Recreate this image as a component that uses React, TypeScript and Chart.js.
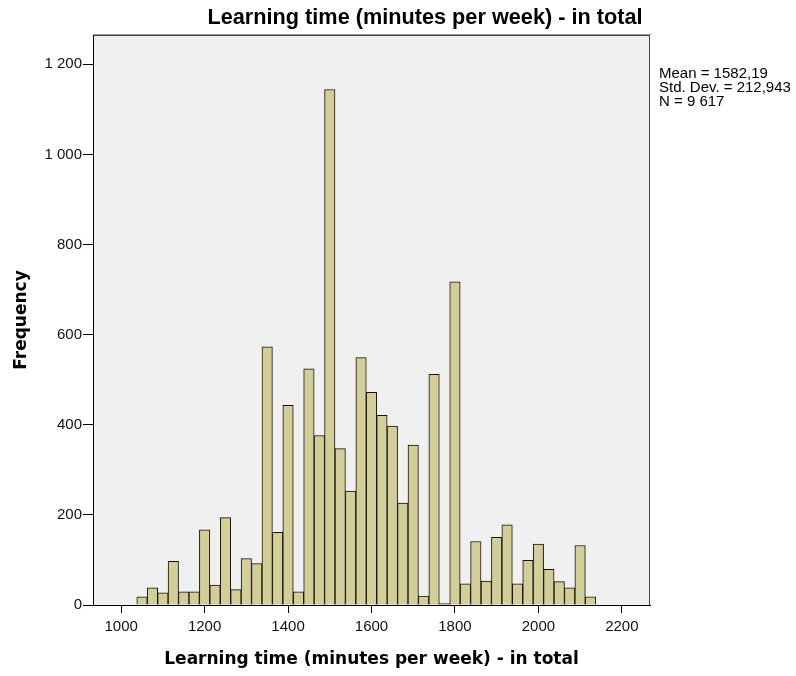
import React, { useEffect, useRef } from 'react';
import { Chart, registerables } from 'chart.js';

Chart.register(...registerables);

const binCenters = [
  1050, 1075, 1100, 1125, 1150, 1175, 1200, 1225, 1250, 1275, 1300, 1325,
  1350, 1375, 1400, 1425, 1450, 1475, 1500, 1525, 1550, 1575, 1600, 1625,
  1650, 1675, 1700, 1725, 1750, 1775, 1800, 1825, 1850, 1875, 1900, 1925,
  1950, 1975, 2000, 2025, 2050, 2075, 2100, 2125,
];
const frequencies = [
  18, 38, 27, 97, 29, 29, 167, 44, 194, 34, 103, 92,
  573, 161, 443, 29, 524, 376, 1144, 347, 253, 549, 472, 421,
  397, 226, 355, 20, 512, 3, 717, 47, 141, 53, 150, 178,
  47, 99, 135, 79, 52, 38, 132, 18,
];
const xTickValues = [1000, 1200, 1400, 1600, 1800, 2000, 2200];
const xTickLabels = ['1000', '1200', '1400', '1600', '1800', '2000', '2200'];
const yTickValues = [0, 200, 400, 600, 800, 1000, 1200];
const yTickLabels = ['0', '200', '400', '600', '800', '1 000', '1 200'];
const chartTitle = 'Learning time (minutes per week) - in total';
const xAxisTitle = 'Learning time (minutes per week) - in total';
const yAxisTitle = 'Frequency';
const statsLines = ['Mean = 1582,19', 'Std. Dev. = 212,943', 'N = 9 617'];

export default function App() {
  const ref = useRef<HTMLCanvasElement>(null);

  useEffect(() => {
    const canvas = ref.current;
    if (!canvas) return;

    const decorations = {
      id: 'decorations',
      beforeDraw(chart: any) {
        const { ctx, chartArea: a } = chart;
        ctx.save();
        ctx.fillStyle = '#ffffff';
        ctx.fillRect(0, 0, chart.width, chart.height);
        ctx.fillStyle = '#f0f0f0';
        ctx.fillRect(a.left, a.top, a.right - a.left, a.bottom - a.top);
        ctx.restore();
      },
      afterDraw(chart: any) {
        const { ctx, chartArea: a } = chart;
        ctx.save();
        ctx.lineWidth = 1;
        ctx.strokeStyle = '#9a9a9a';
        ctx.beginPath();
        ctx.moveTo(a.left, a.top - 0.5);
        ctx.lineTo(a.right + 1, a.top - 0.5);
        ctx.stroke();
        ctx.strokeStyle = '#444444';
        ctx.strokeRect(a.left + 0.5, a.top + 0.5, a.right - a.left - 1, a.bottom - a.top);
        ctx.strokeStyle = '#000000';
        ctx.beginPath();
        ctx.moveTo(a.left + 0.5, a.top);
        ctx.lineTo(a.left + 0.5, a.bottom + 0.5);
        ctx.lineTo(a.right, a.bottom + 0.5);
        ctx.stroke();

        ctx.fillStyle = '#000000';
        ctx.font = 'bold 21.7px "Liberation Sans", Arial, sans-serif';
        ctx.textAlign = 'center';
        ctx.textBaseline = 'alphabetic';
        ctx.fillText(chartTitle, 425, 24);

        ctx.font = '15px "Liberation Sans", Arial, sans-serif';
        ctx.textAlign = 'left';
        statsLines.forEach((line, i) => {
          ctx.fillText(line, a.right + 9, 78 + i * 14);
        });
        ctx.restore();
      },
    };

    const chart = new Chart(canvas, {
      type: 'bar',
      data: {
        datasets: [
          {
            data: binCenters.map((x, i) => ({ x, y: frequencies[i] })),
            backgroundColor: '#d3ce97',
            borderColor: '#111111',
            borderWidth: 1,
            barPercentage: 1,
            categoryPercentage: 1,
          },
        ],
      },
      options: {
        responsive: false,
        animation: false,
        devicePixelRatio: 1,
        layout: { padding: { top: 35, right: 146, left: 0, bottom: 0 } },
        plugins: {
          legend: { display: false },
          tooltip: { enabled: false },
          title: { display: false },
        },
        scales: {
          x: {
            type: 'linear',
            min: 932.5,
            max: 2267.5,
            offset: false,
            afterBuildTicks: (s: any) => {
              s.ticks = xTickValues.map((v) => ({ value: v }));
            },
            afterFit: (s: any) => {
              s.height = 71;
            },
            ticks: {
              autoSkip: false,
              maxRotation: 0,
              padding: 5,
              color: '#111111',
              font: { family: '"Liberation Sans", Arial, sans-serif', size: 15 },
              callback: (v: any) => {
                const i = xTickValues.indexOf(Number(v));
                return i >= 0 ? xTickLabels[i] : '';
              },
            },
            grid: {
              drawOnChartArea: false,
              drawTicks: true,
              tickLength: 8,
              color: '#000000',
              offset: false,
            },
            border: { display: true, color: '#000000', width: 1 },
            title: {
              display: true,
              text: xAxisTitle,
              color: '#000000',
              font: { family: 'DejaVu Sans', size: 17, weight: 'bold' },
              padding: { top: 0, bottom: 6 },
            },
          },
          y: {
            type: 'linear',
            min: 0,
            max: 1265,
            afterBuildTicks: (s: any) => {
              s.ticks = yTickValues.map((v) => ({ value: v }));
            },
            afterFit: (s: any) => {
              s.width = 93;
            },
            ticks: {
              autoSkip: false,
              padding: 1,
              color: '#111111',
              font: { family: '"Liberation Sans", Arial, sans-serif', size: 15 },
              callback: (v: any) => {
                const i = yTickValues.indexOf(Number(v));
                return i >= 0 ? yTickLabels[i] : '';
              },
            },
            grid: {
              drawOnChartArea: false,
              drawTicks: true,
              tickLength: 10,
              color: '#000000',
            },
            border: { display: true, color: '#000000', width: 1 },
            title: {
              display: true,
              text: yAxisTitle,
              color: '#000000',
              font: { family: 'DejaVu Sans', size: 17, weight: 'bold' },
              padding: { top: 11, bottom: 0 },
            },
          },
        },
      },
      plugins: [decorations],
    } as any);

    return () => chart.destroy();
  }, []);

  return (
    <div style={{ position: 'fixed', left: 0, top: 0, width: 796, height: 676 }}>
      <canvas ref={ref} width={796} height={676} style={{ display: 'block' }} />
    </div>
  );
}
